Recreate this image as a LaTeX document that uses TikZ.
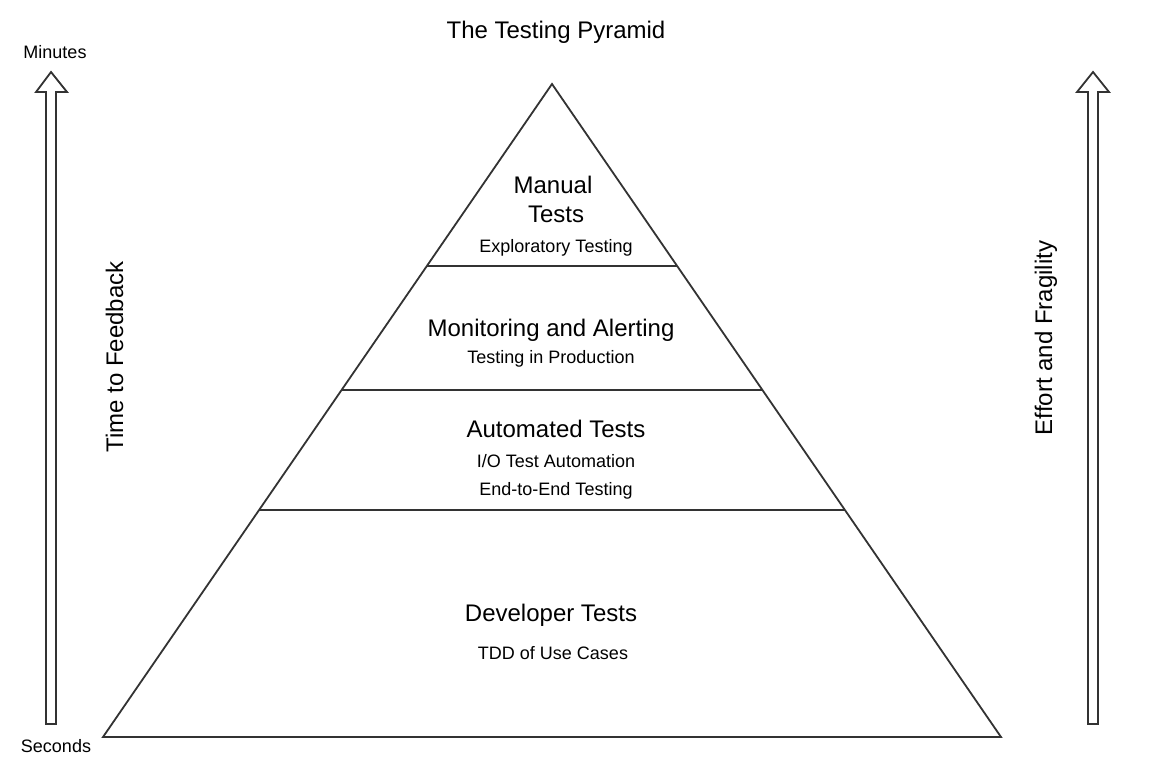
\documentclass[tikz,border=0pt]{standalone}
\usepackage{fontspec}
\setmainfont{Liberation Sans}
\begin{document}
\begin{tikzpicture}[x=0.5pt,y=-0.5pt,
  edge/.style={draw=black!80,line width=0.9pt,line join=miter},
  big/.style={font=\fontsize{12}{14}\selectfont,inner sep=0pt,anchor=base},
  small/.style={font=\fontsize{9}{11}\selectfont,inner sep=0pt,anchor=base}]
\useasboundingbox (0,0) rectangle (1166,766);
% pyramid
\coordinate (apex) at (552,84);
\coordinate (bl) at (103,737);
\coordinate (br) at (1001,737);
\draw[edge] (apex) -- (br) -- (bl) -- cycle;
\foreach \yy/\nm in {266/a,390/b,510/c}{
  \path (apex) -- (bl) coordinate[pos={(\yy-84)/653}] (l\nm);
  \path (apex) -- (br) coordinate[pos={(\yy-84)/653}] (r\nm);
  \draw[edge] (l\nm) -- (r\nm);
}
% arrows
\draw[edge] (51,72) coordinate (ltip) -- (67,92) -- (56,92) -- (56,724) -- (46,724) -- (46,92) -- (36,92) -- cycle;
\draw[edge] (1093,72) coordinate (rtip) -- (1109,92) -- (1098,92) -- (1098,724) -- (1088,724) -- (1088,92) -- (1077,92) -- cycle;
% texts
\node[big] (title) at (556,38) {The Testing Pyramid};
\node[small] (minutes) at (55,58) {Minutes};
\node[small] (seconds) at (56,752) {Seconds};
\node[big,rotate=90] (ttf) at (123,357) {Time to Feedback};
\node[big,rotate=90] (eaf) at (1052,338) {Effort and Fragility};
\node[big] (manual) at (553,193) {Manual};
\node[big] (tests) at (556,222) {Tests};
\node[small] (explor) at (556,252) {Exploratory Testing};
\node[big] (monit) at (551,336) {Monitoring and Alerting};
\node[small] (prod) at (551,363) {Testing in Production};
\node[big] (auto) at (556,437) {Automated Tests};
\node[small] (io) at (556,467) {I/O Test Automation};
\node[small] (e2e) at (556,495) {End-to-End Testing};
\node[big] (dev) at (551,621) {Developer Tests};
\node[small] (tdd) at (553,659) {TDD of Use Cases};
\end{tikzpicture}
\end{document}
